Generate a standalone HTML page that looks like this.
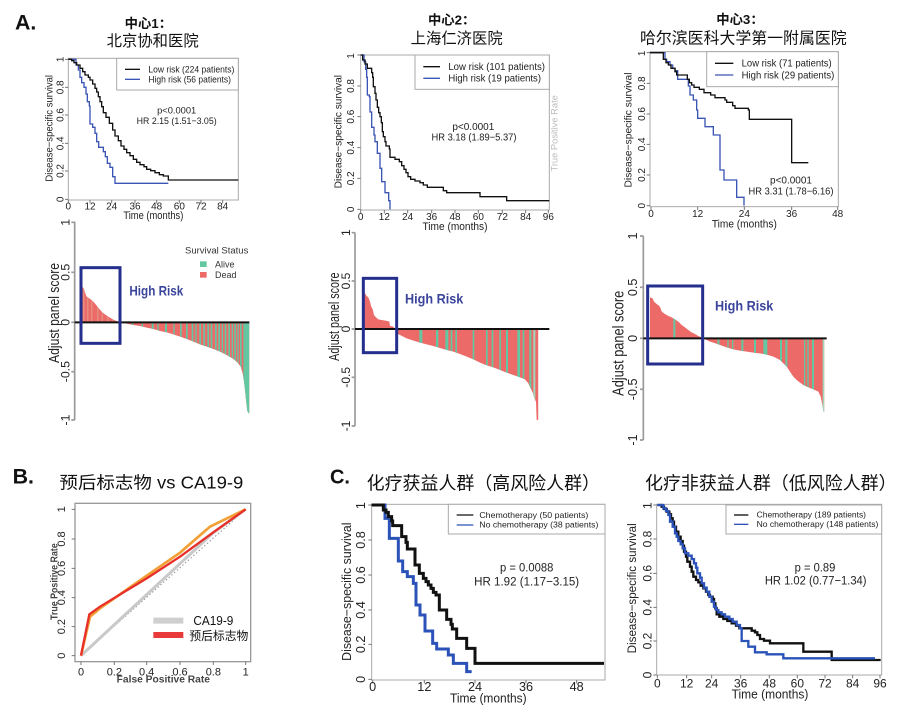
<!DOCTYPE html>
<html><head><meta charset="utf-8">
<style>
html,body{margin:0;padding:0;background:#fff;}
svg{display:block;font-family:"Liberation Sans","Noto Sans CJK SC",sans-serif;}
</style></head>
<body>
<svg width="903" height="707" viewBox="0 0 903 707" xmlns="http://www.w3.org/2000/svg">
<rect width="903" height="707" fill="#fff"/>
<defs>
<clipPath id="w1"><polygon points="240,322 240,160 245,165 247,215 252,222 256,235 260,245 268,250 275,255 282,262 290,272 298,282 305,290 312,296 320,302 330,308 340,314 350,318 360,322 380,326 400,330 420,333 440,338 460,342 480,348 500,352 520,358 540,365 560,372 580,380 600,388 620,395 640,402 660,410 680,420 700,432 712,442 722,455 728,475 732,500 735,525 738,555 742,588 746,595 748,595 748,322"/></clipPath>
<clipPath id="w2"><polygon points="190,327 190,218 195,220 200,228 205,232 210,245 213,258 218,268 222,285 228,292 235,298 245,300 262,303 268,305 270,318 280,320 285,327 290,340 300,345 320,355 340,362 360,368 380,373 400,378 420,384 440,390 460,395 480,402 500,410 520,418 540,428 560,436 580,442 600,450 620,458 640,465 660,472 675,478 685,490 692,505 698,518 703,535 708,545 710,600 715,600 715,327"/></clipPath>
<clipPath id="w3"><polygon points="150,355 150,232 158,235 162,245 170,252 178,258 182,265 185,275 195,282 205,288 215,292 225,298 235,305 245,315 255,322 265,330 275,337 285,342 295,348 305,352 310,355 320,360 330,365 340,368 360,375 380,382 400,388 420,392 440,395 460,398 480,400 500,404 520,410 540,420 550,430 560,440 570,455 580,470 590,480 600,488 610,495 620,500 640,508 655,515 662,530 665,545 668,560 670,575 673,575 673,355"/></clipPath>
</defs>

<!-- Panel A1 -->
<g transform="translate(0,0) scale(0.333333)" fill="#222">
<text x="45" y="88" font-size="64" font-weight="bold" fill="#111">A.</text>
<text x="445" y="84" font-size="40" font-weight="bold" text-anchor="middle" fill="#111">中心1：</text>
<text x="458" y="138" font-size="46" text-anchor="middle" fill="#111">北京协和医院</text>
<rect x="205" y="175" width="510" height="425" fill="none" stroke="#aaa" stroke-width="3"/>
<path d="M195,178H205M195,262H205M195,345H205M195,430H205M195,513H205M195,598H205M205,600V610M270,600V610M335,600V610M405,600V610M470,600V610M538,600V610M603,600V610M668,600V610" stroke="#777" stroke-width="3"/>
<g font-size="30" text-anchor="middle">
<text transform="translate(190,178) rotate(-90)">1</text>
<text transform="translate(190,262) rotate(-90)">0.8</text>
<text transform="translate(190,345) rotate(-90)">0.6</text>
<text transform="translate(190,430) rotate(-90)">0.4</text>
<text transform="translate(190,513) rotate(-90)">0.2</text>
<text transform="translate(190,598) rotate(-90)">0</text>
<text transform="translate(157,385) rotate(-90)" textLength="320" lengthAdjust="spacingAndGlyphs">Disease−specific survival</text>
<text x="205" y="629">0</text><text x="270" y="629">12</text><text x="335" y="629">24</text><text x="405" y="629">36</text><text x="470" y="629">48</text><text x="538" y="629">60</text><text x="603" y="629">72</text><text x="668" y="629">84</text>
<text x="460" y="657" font-size="32" textLength="180" lengthAdjust="spacingAndGlyphs">Time (months)</text>
<text x="530" y="340" font-size="28">p&lt;0.0001</text>
<text x="530" y="372" font-size="28" textLength="240" lengthAdjust="spacingAndGlyphs">HR 2.15 (1.51−3.05)</text>
</g>
<rect x="350" y="175" width="365" height="95" fill="#fff" stroke="#aaa" stroke-width="3"/>
<path d="M375,208H420" stroke="#111" stroke-width="4"/>
<path d="M375,238H420" stroke="#3b55b5" stroke-width="4"/>
<text x="445" y="218" font-size="28" textLength="258" lengthAdjust="spacingAndGlyphs">Low risk (224 patients)</text>
<text x="445" y="248" font-size="28" textLength="248" lengthAdjust="spacingAndGlyphs">High risk (56 patients)</text>
<path fill="none" stroke="#3b55b5" stroke-width="4" d="M205,178 H228 V195 H235 V210 H240 V232 H245 V248 H252 V262 H258 V282 H262 V305 H268 V318 H270 V372 H278 V382 H285 V400 H290 V425 H296 V442 H310 V455 H316 V470 H322 V490 H330 V502 H338 V530 H345 V550 H505"/>
<path fill="none" stroke="#111" stroke-width="4" d="M205,178 H215 V182 H222 V188 H230 V195 H240 V205 H248 V215 H255 V225 H265 V232 H270 V240 H278 V252 H285 V265 H290 V276 H295 V290 H300 V305 H305 V320 H310 V338 H318 V352 H328 V370 H338 V390 H345 V408 H355 V422 H363 V438 H372 V448 H380 V458 H390 V467 H400 V478 H410 V487 H420 V494 H432 V500 H440 V508 H452 V512 H465 V518 H478 V524 H490 V528 H505 V540 H715"/>
</g>

<!-- Panel A2 -->
<g transform="translate(300,0) scale(0.333333)" fill="#222">
<text x="455" y="74" font-size="40" font-weight="bold" text-anchor="middle" fill="#111">中心2：</text>
<text x="470" y="130" font-size="46" text-anchor="middle" fill="#111">上海仁济医院</text>
<rect x="182" y="165" width="566" height="465" fill="none" stroke="#aaa" stroke-width="3"/>
<path d="M172,165H182M172,258H182M172,350H182M172,443H182M172,535H182M172,628H182M182,630V640M253,630V640M323,630V640M395,630V640M465,630V640M535,630V640M607,630V640M677,630V640M745,630V640" stroke="#777" stroke-width="3"/>
<g font-size="30" text-anchor="middle">
<text transform="translate(162,168) rotate(-90)">1</text>
<text transform="translate(162,258) rotate(-90)">0.8</text>
<text transform="translate(162,350) rotate(-90)">0.6</text>
<text transform="translate(162,443) rotate(-90)">0.4</text>
<text transform="translate(162,535) rotate(-90)">0.2</text>
<text transform="translate(162,628) rotate(-90)">0</text>
<text transform="translate(125,395) rotate(-90)" textLength="340" lengthAdjust="spacingAndGlyphs">Disease−specific survival</text>
<text x="182" y="660">0</text><text x="253" y="660">12</text><text x="323" y="660">24</text><text x="395" y="660">36</text><text x="465" y="660">48</text><text x="535" y="660">60</text><text x="607" y="660">72</text><text x="677" y="660">84</text><text x="745" y="660">96</text>
<text x="465" y="690" font-size="32" textLength="195" lengthAdjust="spacingAndGlyphs">Time (months)</text>
<text x="520" y="390" font-size="30">p&lt;0.0001</text>
<text x="522" y="422" font-size="30" textLength="255" lengthAdjust="spacingAndGlyphs">HR 3.18 (1.89−5.37)</text>
<text transform="translate(772,400) rotate(-90)" font-size="28" fill="#bbb">True Positive Rate</text>
</g>
<rect x="345" y="165" width="403" height="103" fill="#fff" stroke="#aaa" stroke-width="3"/>
<path d="M370,200H420" stroke="#111" stroke-width="4"/>
<path d="M370,235H420" stroke="#3b55b5" stroke-width="4"/>
<text x="445" y="210" font-size="30" textLength="290" lengthAdjust="spacingAndGlyphs">Low risk (101 patients)</text>
<text x="445" y="245" font-size="30" textLength="278" lengthAdjust="spacingAndGlyphs">High risk (19 patients)</text>
<path fill="none" stroke="#3b55b5" stroke-width="4" d="M182,165 H192 V185 H197 V208 H200 V232 H202 V285 H208 V290 H210 V336 H215 V382 H222 V405 H225 V425 H232 V460 H240 V505 H245 V545 H255 V578 H266 V602 H270 V628"/>
<path fill="none" stroke="#111" stroke-width="4" d="M182,165 H188 V180 H195 V192 H202 V205 H215 V218 H218 V232 H220 V260 H225 V280 H228 V300 H232 V322 H236 V338 H240 V350 H244 V368 H247 V395 H250 V410 H255 V425 H258 V438 H268 V447 H270 V472 H285 V478 H298 V485 H305 V497 H312 V508 H318 V518 H324 V530 H332 V538 H345 V543 H360 V548 H370 V555 H382 V562 H430 V572 H440 V578 H540 V590 H620 V602 H748"/>
</g>

<!-- Panel A3 -->
<g transform="translate(600,0) scale(0.333333)" fill="#222">
<text x="420" y="72" font-size="40" font-weight="bold" text-anchor="middle" fill="#111">中心3：</text>
<text x="430" y="130" font-size="47" text-anchor="middle" fill="#111" textLength="620" lengthAdjust="spacingAndGlyphs">哈尔滨医科大学第一附属医院</text>
<rect x="150" y="155" width="565" height="465" fill="none" stroke="#aaa" stroke-width="3"/>
<path d="M140,158H150M140,250H150M140,342H150M140,433H150M140,525H150M140,617H150M153,620V630M293,620V630M433,620V630M575,620V630M713,620V630" stroke="#777" stroke-width="3"/>
<g font-size="30" text-anchor="middle">
<text transform="translate(135,160) rotate(-90)">1</text>
<text transform="translate(135,250) rotate(-90)">0.8</text>
<text transform="translate(135,342) rotate(-90)">0.6</text>
<text transform="translate(135,433) rotate(-90)">0.4</text>
<text transform="translate(135,525) rotate(-90)">0.2</text>
<text transform="translate(135,617) rotate(-90)">0</text>
<text transform="translate(95,390) rotate(-90)" textLength="345" lengthAdjust="spacingAndGlyphs">Disease−specific survival</text>
<text x="153" y="651">0</text><text x="293" y="651">12</text><text x="433" y="651">24</text><text x="575" y="651">36</text><text x="713" y="651">48</text>
<text x="433" y="682" font-size="32" textLength="195" lengthAdjust="spacingAndGlyphs">Time (months)</text>
<text x="573" y="550" font-size="30">p&lt;0.0001</text>
<text x="573" y="583" font-size="30" textLength="255" lengthAdjust="spacingAndGlyphs">HR 3.31 (1.78−6.16)</text>
</g>
<rect x="320" y="155" width="395" height="105" fill="#fff" stroke="#aaa" stroke-width="3"/>
<path d="M345,190H400" stroke="#111" stroke-width="4"/>
<path d="M345,225H400" stroke="#3b55b5" stroke-width="4"/>
<text x="425" y="200" font-size="29" textLength="270" lengthAdjust="spacingAndGlyphs">Low risk (71 patients)</text>
<text x="425" y="235" font-size="29" textLength="278" lengthAdjust="spacingAndGlyphs">High risk (29 patients)</text>
<path fill="none" stroke="#3b55b5" stroke-width="4" d="M150,158 H195 V178 H200 V185 H210 V195 H218 V205 H225 V212 H233 V238 H265 V258 H270 V285 H280 V300 H290 V330 H293 V355 H315 V380 H340 V405 H360 V510 H372 V540 H410 V592 H432 V617"/>
<path fill="none" stroke="#111" stroke-width="4" d="M150,158 H190 V178 H198 V188 H205 V195 H213 V205 H225 V215 H230 V225 H262 V238 H268 V248 H275 V255 H282 V262 H298 V268 H312 V278 H332 V285 H345 V293 H375 V300 H380 V307 H398 V317 H405 V325 H445 V330 H448 V358 H575 V488 H625"/>
</g>

<!-- Waterfall 1 -->
<g transform="translate(0,215) scale(0.333333)" fill="#222">
<path d="M224,20V615M214,22H224M214,172H224M214,322H224M214,470H224M214,615H224" stroke="#999" stroke-width="5"/>
<g font-size="37" text-anchor="middle">
<text transform="translate(208,22) rotate(-90)">1</text>
<text transform="translate(208,172) rotate(-90)">0.5</text>
<text transform="translate(208,322) rotate(-90)">0</text>
<text transform="translate(208,470) rotate(-90)">-0.5</text>
<text transform="translate(208,615) rotate(-90)">-1</text>
</g>
<text transform="translate(177,294) rotate(-90)" font-size="44" text-anchor="middle" textLength="300" lengthAdjust="spacingAndGlyphs">Adjust panel score</text>
<g clip-path="url(#w1)">
<rect x="230" y="140" width="530" height="470" fill="#ec6a68"/>
<g fill="#e2a08c"><rect x="250" y="140" width="3" height="200"/><rect x="262" y="140" width="3" height="200"/><rect x="274" y="140" width="3" height="200"/><rect x="292" y="140" width="3" height="200"/><rect x="305" y="140" width="3" height="200"/><rect x="322" y="140" width="3" height="200"/><rect x="338" y="140" width="3" height="200"/></g>
<g fill="#63c7a2"><rect x="395" y="322" width="5" height="300"/><rect x="425" y="322" width="4" height="300"/><rect x="455" y="322" width="6" height="300"/><rect x="472" y="322" width="4" height="300"/><rect x="495" y="322" width="6" height="300"/><rect x="520" y="322" width="4" height="300"/><rect x="540" y="322" width="5" height="300"/><rect x="558" y="322" width="5" height="300"/><rect x="575" y="322" width="5" height="300"/><rect x="586" y="322" width="4" height="300"/><rect x="598" y="322" width="5" height="300"/><rect x="610" y="322" width="5" height="300"/><rect x="622" y="322" width="5" height="300"/><rect x="632" y="322" width="5" height="300"/><rect x="645" y="322" width="5" height="300"/><rect x="655" y="322" width="5" height="300"/><rect x="665" y="322" width="4" height="300"/><rect x="674" y="322" width="5" height="300"/><rect x="685" y="322" width="5" height="300"/><rect x="695" y="322" width="4" height="300"/><rect x="703" y="322" width="5" height="300"/><rect x="712" y="322" width="4" height="300"/><rect x="720" y="322" width="5" height="300"/><rect x="730" y="322" width="20" height="300"/></g>
</g>
<path d="M224,322H748" stroke="#111" stroke-width="6"/>
<rect x="243" y="158" width="117" height="227" fill="none" stroke="#252f8e" stroke-width="9"/>
<text x="388" y="242" font-size="42" font-weight="bold" fill="#3a449a" textLength="162" lengthAdjust="spacingAndGlyphs">High Risk</text>
<text x="555" y="116" font-size="27" fill="#333" textLength="190" lengthAdjust="spacingAndGlyphs">Survival Status</text>
<rect x="600" y="139" width="20" height="17" fill="#63c7a2"/>
<rect x="600" y="171" width="20" height="17" fill="#ec6a68"/>
<text x="645" y="157" font-size="27" fill="#333">Alive</text>
<text x="645" y="189" font-size="27" fill="#333">Dead</text>
</g>

<!-- Waterfall 2 -->
<g transform="translate(300,220) scale(0.333333)" fill="#222">
<path d="M165,38V618M155,38H165M155,183H165M155,327H165M155,472H165M155,618H165" stroke="#999" stroke-width="5"/>
<g font-size="36" text-anchor="middle">
<text transform="translate(150,38) rotate(-90)">1</text>
<text transform="translate(150,183) rotate(-90)">0.5</text>
<text transform="translate(150,327) rotate(-90)">0</text>
<text transform="translate(150,472) rotate(-90)">-0.5</text>
<text transform="translate(150,618) rotate(-90)">-1</text>
</g>
<text transform="translate(117,290) rotate(-90)" font-size="44" text-anchor="middle" textLength="265" lengthAdjust="spacingAndGlyphs">Adjust panel score</text>
<g clip-path="url(#w2)">
<rect x="180" y="200" width="550" height="420" fill="#ec6a68"/>
<g fill="#63c7a2"><rect x="358" y="327" width="9" height="300"/><rect x="408" y="327" width="7" height="300"/><rect x="436" y="327" width="9" height="300"/><rect x="452" y="327" width="5" height="300"/><rect x="466" y="327" width="5" height="300"/><rect x="518" y="327" width="5" height="300"/><rect x="558" y="327" width="5" height="300"/><rect x="575" y="327" width="5" height="300"/><rect x="598" y="327" width="5" height="300"/><rect x="618" y="327" width="6" height="300"/><rect x="652" y="327" width="8" height="300"/><rect x="668" y="327" width="5" height="300"/><rect x="688" y="327" width="6" height="300"/><rect x="700" y="327" width="6" height="300" fill="#9fd8bc"/></g>
</g>
<path d="M165,327H748" stroke="#111" stroke-width="6"/>
<rect x="190" y="175" width="100" height="223" fill="none" stroke="#252f8e" stroke-width="9"/>
<text x="315" y="250" font-size="42" font-weight="bold" fill="#3a449a" textLength="175" lengthAdjust="spacingAndGlyphs">High Risk</text>
</g>

<!-- Waterfall 3 -->
<g transform="translate(600,220) scale(0.333333)" fill="#222">
<path d="M130,48V660M120,48H130M120,202H130M120,355H130M120,508H130M120,660H130" stroke="#999" stroke-width="5"/>
<g font-size="38" text-anchor="middle">
<text transform="translate(111,48) rotate(-90)">1</text>
<text transform="translate(111,202) rotate(-90)">0.5</text>
<text transform="translate(111,355) rotate(-90)">0</text>
<text transform="translate(111,508) rotate(-90)">-0.5</text>
<text transform="translate(111,660) rotate(-90)">-1</text>
</g>
<text transform="translate(70,370) rotate(-90)" font-size="46" text-anchor="middle" textLength="315" lengthAdjust="spacingAndGlyphs">Adjust panel score</text>
<g clip-path="url(#w3)">
<rect x="140" y="220" width="540" height="370" fill="#ec6a68"/>
<g fill="#63c7a2"><rect x="220" y="200" width="6" height="300"/><rect x="352" y="355" width="6" height="300"/><rect x="382" y="355" width="4" height="300"/><rect x="396" y="355" width="4" height="300"/><rect x="424" y="355" width="6" height="300"/><rect x="462" y="355" width="6" height="300"/><rect x="490" y="355" width="12" height="300"/><rect x="540" y="355" width="6" height="300"/><rect x="556" y="355" width="6" height="300"/><rect x="612" y="355" width="4" height="300"/><rect x="622" y="355" width="4" height="300"/><rect x="636" y="355" width="6" height="300"/><rect x="668" y="355" width="5" height="300" fill="#9fd8bc"/></g>
</g>
<path d="M130,355H680" stroke="#111" stroke-width="6"/>
<rect x="143" y="198" width="165" height="234" fill="none" stroke="#252f8e" stroke-width="9"/>
<text x="345" y="272" font-size="42" font-weight="bold" fill="#3a449a" textLength="175" lengthAdjust="spacingAndGlyphs">High Risk</text>
</g>

<!-- Panel B ROC -->
<g transform="translate(0,455) scale(0.333333)" fill="#222">
<text x="38" y="85" font-size="64" font-weight="bold" fill="#111">B.</text>
<text x="178" y="100" font-size="52" fill="#111" textLength="552" lengthAdjust="spacingAndGlyphs">预后标志物 vs CA19-9</text>
<rect x="225" y="145" width="527" height="475" fill="none" stroke="#999" stroke-width="4"/>
<path d="M215,163H225M215,252H225M215,340H225M215,428H225M215,515H225M215,602H225M243,620V630M343,620V630M440,620V630M540,620V630M640,620V630M737,620V630" stroke="#777" stroke-width="3"/>
<g font-size="33" text-anchor="middle">
<text transform="translate(195,163) rotate(-90)">1</text>
<text transform="translate(195,252) rotate(-90)">0.8</text>
<text transform="translate(195,340) rotate(-90)">0.6</text>
<text transform="translate(195,428) rotate(-90)">0.4</text>
<text transform="translate(195,515) rotate(-90)">0.2</text>
<text transform="translate(195,602) rotate(-90)">0</text>
<text x="243" y="662">0</text><text x="343" y="662">0.2</text><text x="440" y="662">0.4</text><text x="540" y="662">0.6</text><text x="640" y="662">0.8</text><text x="737" y="662">1</text>
<text x="490" y="683" font-size="30" font-weight="bold" fill="#444" textLength="280" lengthAdjust="spacingAndGlyphs">False Positive Rate</text>
<text transform="translate(172,380) rotate(-90)" font-size="30" font-weight="bold" fill="#444" textLength="230" lengthAdjust="spacingAndGlyphs">True Positive Rate</text>
</g>
<path d="M243,602L737,163" stroke="#888" stroke-width="3" stroke-dasharray="4 7" fill="none"/>
<path d="M243,602L640,233L737,163" stroke="#c9c9c9" stroke-width="9" fill="none"/>
<path d="M243,602L270,485L300,460L440,362L540,293L630,215L737,163" stroke="#f2a035" stroke-width="8" fill="none"/>
<path d="M243,602L268,478L300,455L440,370L540,305L640,232L737,163" stroke="#e8302a" stroke-width="7" fill="none"/>
<path d="M460,497H550" stroke="#cfcfcf" stroke-width="18"/>
<path d="M460,540H550" stroke="#e83a3a" stroke-width="18"/>
<text x="580" y="510" font-size="40" fill="#111" textLength="120" lengthAdjust="spacingAndGlyphs">CA19-9</text>
<text x="568" y="555" font-size="36" fill="#111" textLength="177" lengthAdjust="spacingAndGlyphs">预后标志物</text>
</g>

<!-- Panel C left -->
<g transform="translate(320,455) scale(0.333333)" fill="#222">
<text x="30" y="85" font-size="60" font-weight="bold" fill="#111">C.</text>
<text x="140" y="103" font-size="54" fill="#111" textLength="700" lengthAdjust="spacingAndGlyphs">化疗获益人群（高风险人群）</text>
<rect x="155" y="148" width="700" height="527" fill="none" stroke="#aaa" stroke-width="3"/>
<path d="M145,150H155M145,255H155M145,360H155M145,465H155M145,568H155M145,673H155M158,675V685M313,675V685M465,675V685M618,675V685M770,675V685" stroke="#777" stroke-width="3"/>
<g font-size="38" text-anchor="middle">
<text transform="translate(135,152) rotate(-90)">1</text>
<text transform="translate(135,255) rotate(-90)">0.8</text>
<text transform="translate(135,360) rotate(-90)">0.6</text>
<text transform="translate(135,465) rotate(-90)">0.4</text>
<text transform="translate(135,568) rotate(-90)">0.2</text>
<text transform="translate(135,673) rotate(-90)">0</text>
<text transform="translate(93,410) rotate(-90)" textLength="415" lengthAdjust="spacingAndGlyphs">Disease−specific survival</text>
<text x="158" y="708">0</text><text x="313" y="708">12</text><text x="465" y="708">24</text><text x="618" y="708">36</text><text x="770" y="708">48</text>
<text x="505" y="742" font-size="40" textLength="230" lengthAdjust="spacingAndGlyphs">Time (months)</text>
<text x="620" y="350" font-size="36" textLength="160" lengthAdjust="spacingAndGlyphs">p = 0.0088</text>
<text x="620" y="392" font-size="36" textLength="315" lengthAdjust="spacingAndGlyphs">HR 1.92 (1.17−3.15)</text>
</g>
<rect x="385" y="148" width="470" height="89" fill="#fff" stroke="#aaa" stroke-width="3"/>
<path d="M410,180H460" stroke="#111" stroke-width="4"/>
<path d="M410,210H460" stroke="#2a52b8" stroke-width="4"/>
<text x="478" y="189" font-size="25" textLength="327" lengthAdjust="spacingAndGlyphs">Chemotherapy (50 patients)</text>
<text x="478" y="218" font-size="25" textLength="357" lengthAdjust="spacingAndGlyphs">No chemotherapy (38 patients)</text>
<path fill="none" stroke="#2a52b8" stroke-width="9" d="M155,150 H195 V190 H208 V250 H235 V318 H248 V350 H262 V365 H280 V385 H288 V450 H300 V480 H315 V528 H338 V565 H350 V582 H385 V600 H400 V625 H440 V650 H455"/>
<path fill="none" stroke="#111" stroke-width="9" d="M155,150 H190 V165 H198 V172 H205 V185 H215 V198 H218 V212 H245 V245 H258 V262 H262 V282 H285 V330 H298 V355 H310 V370 H318 V380 H325 V390 H333 V400 H340 V412 H348 V420 H358 V465 H380 V493 H393 V508 H397 V522 H410 V550 H440 V580 H465 V625 H852"/>
</g>

<!-- Panel C right -->
<g transform="translate(610,455) scale(0.333333)" fill="#222">
<text x="105" y="103" font-size="54" fill="#111" textLength="755" lengthAdjust="spacingAndGlyphs">化疗非获益人群（低风险人群）</text>
<rect x="140" y="148" width="675" height="512" fill="none" stroke="#aaa" stroke-width="3"/>
<path d="M130,150H140M130,252H140M130,355H140M130,457H140M130,558H140M130,660H140M142,660V670M230,660V670M305,660V670M392,660V670M478,660V670M562,660V670M645,660V670M728,660V670M810,660V670" stroke="#777" stroke-width="3"/>
<g font-size="36" text-anchor="middle">
<text transform="translate(125,152) rotate(-90)">1</text>
<text transform="translate(125,252) rotate(-90)">0.8</text>
<text transform="translate(125,355) rotate(-90)">0.6</text>
<text transform="translate(125,457) rotate(-90)">0.4</text>
<text transform="translate(125,558) rotate(-90)">0.2</text>
<text transform="translate(125,660) rotate(-90)">0</text>
<text transform="translate(78,400) rotate(-90)" textLength="390" lengthAdjust="spacingAndGlyphs">Disease−specific survival</text>
<text x="142" y="697">0</text><text x="230" y="697">12</text><text x="305" y="697">24</text><text x="392" y="697">36</text><text x="478" y="697">48</text><text x="562" y="697">60</text><text x="645" y="697">72</text><text x="728" y="697">84</text><text x="810" y="697">96</text>
<text x="480" y="730" font-size="40" textLength="230" lengthAdjust="spacingAndGlyphs">Time (months)</text>
<text x="615" y="350" font-size="36" textLength="122" lengthAdjust="spacingAndGlyphs">p = 0.89</text>
<text x="617" y="388" font-size="36" textLength="305" lengthAdjust="spacingAndGlyphs">HR 1.02 (0.77−1.34)</text>
</g>
<rect x="348" y="150" width="467" height="87" fill="#fff" stroke="#aaa" stroke-width="3"/>
<path d="M372,180H415" stroke="#111" stroke-width="4"/>
<path d="M372,208H415" stroke="#2a52b8" stroke-width="4"/>
<text x="440" y="188" font-size="24" textLength="328" lengthAdjust="spacingAndGlyphs">Chemotherapy (189 patients)</text>
<text x="440" y="216" font-size="24" textLength="365" lengthAdjust="spacingAndGlyphs">No chemotherapy (148 patients)</text>
<path fill="none" stroke="#111" stroke-width="7" d="M142,150 H155 V155 H162 V162 H170 V170 H178 V178 H183 V190 H188 V200 H192 V215 H198 V230 H205 V245 H212 V258 H218 V272 H222 V290 H228 V305 H232 V320 H240 V335 H245 V350 H250 V365 H258 V375 H265 V382 H272 V392 H280 V400 H288 V410 H295 V420 H300 V425 H308 V432 H312 V445 H316 V460 H320 V478 H328 V485 H340 V492 H352 V498 H365 V505 H378 V512 H388 V520 H425 V527 H435 V532 H442 V540 H450 V552 H462 V557 H480 V565 H580 V590 H665 V615 H812"/>
<path fill="none" stroke="#2a52b8" stroke-width="7" d="M142,150 H160 V160 H168 V168 H175 V180 H180 V200 H188 V215 H195 V235 H200 V245 H205 V258 H212 V268 H218 V280 H225 V295 H235 V302 H245 V312 H252 V325 H258 V338 H262 V355 H270 V368 H275 V385 H282 V398 H290 V410 H298 V425 H305 V440 H312 V455 H318 V465 H325 V472 H335 V478 H345 V485 H358 V492 H368 V500 H380 V510 H390 V520 H395 V558 H415 V575 H435 V592 H470 V598 H520 V610 H795"/>
</g>
</svg>
</body></html>
